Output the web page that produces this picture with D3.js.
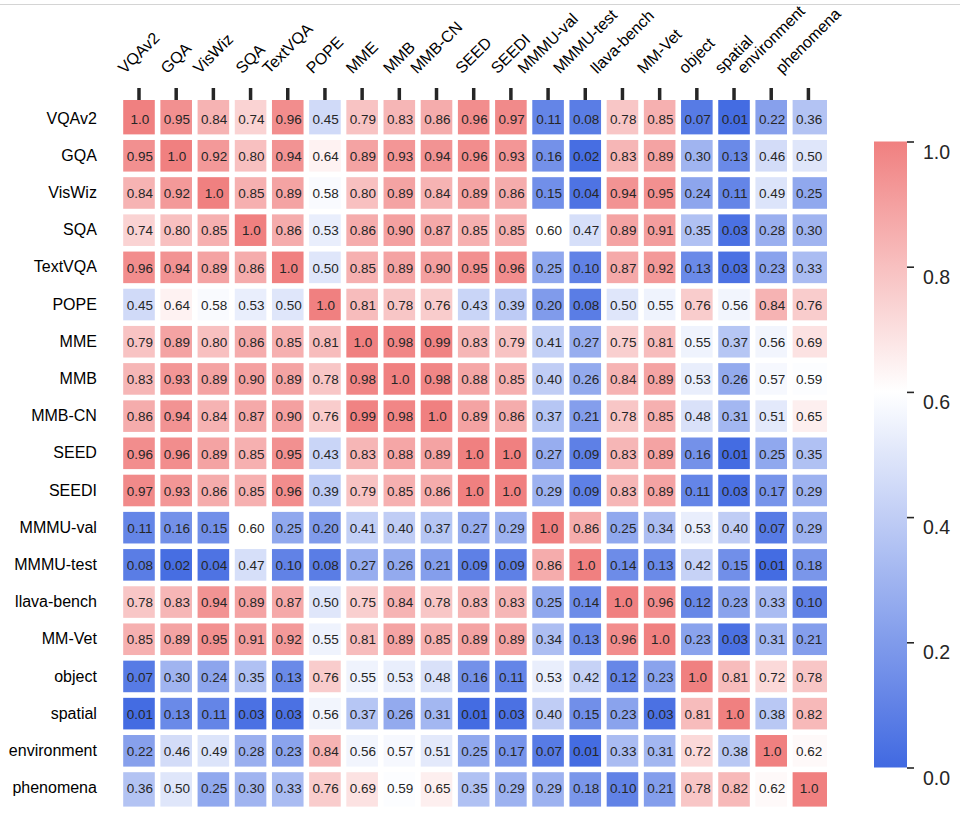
<!DOCTYPE html>
<html>
<head>
<meta charset="utf-8">
<script src="https://cdn.jsdelivr.net/npm/d3@7"></script>
<style>
  html, body { margin: 0; padding: 0; background: #fff; }
  svg { display: block; font-family: "Liberation Sans", Arial, Helvetica, sans-serif; }
</style>
</head>
<body>
<svg id="chart" width="960" height="815"></svg>
<script>
const categories = ["VQAv2","GQA","VisWiz","SQA","TextVQA","POPE","MME","MMB","MMB-CN","SEED","SEEDI","MMMU-val","MMMU-test","llava-bench","MM-Vet","object","spatial","environment","phenomena"];

const rowVQAv2      = [1.0,0.95,0.84,0.74,0.96,0.45,0.79,0.83,0.86,0.96,0.97,0.11,0.08,0.78,0.85,0.07,0.01,0.22,0.36];
const rowGQA        = [0.95,1.0,0.92,0.80,0.94,0.64,0.89,0.93,0.94,0.96,0.93,0.16,0.02,0.83,0.89,0.30,0.13,0.46,0.50];
const rowVisWiz     = [0.84,0.92,1.0,0.85,0.89,0.58,0.80,0.89,0.84,0.89,0.86,0.15,0.04,0.94,0.95,0.24,0.11,0.49,0.25];
const rowSQA        = [0.74,0.80,0.85,1.0,0.86,0.53,0.86,0.90,0.87,0.85,0.85,0.60,0.47,0.89,0.91,0.35,0.03,0.28,0.30];
const rowTextVQA    = [0.96,0.94,0.89,0.86,1.0,0.50,0.85,0.89,0.90,0.95,0.96,0.25,0.10,0.87,0.92,0.13,0.03,0.23,0.33];
const rowPOPE       = [0.45,0.64,0.58,0.53,0.50,1.0,0.81,0.78,0.76,0.43,0.39,0.20,0.08,0.50,0.55,0.76,0.56,0.84,0.76];
const rowMME        = [0.79,0.89,0.80,0.86,0.85,0.81,1.0,0.98,0.99,0.83,0.79,0.41,0.27,0.75,0.81,0.55,0.37,0.56,0.69];
const rowMMB        = [0.83,0.93,0.89,0.90,0.89,0.78,0.98,1.0,0.98,0.88,0.85,0.40,0.26,0.84,0.89,0.53,0.26,0.57,0.59];
const rowMMBCN      = [0.86,0.94,0.84,0.87,0.90,0.76,0.99,0.98,1.0,0.89,0.86,0.37,0.21,0.78,0.85,0.48,0.31,0.51,0.65];
const rowSEED       = [0.96,0.96,0.89,0.85,0.95,0.43,0.83,0.88,0.89,1.0,1.0,0.27,0.09,0.83,0.89,0.16,0.01,0.25,0.35];
const rowSEEDI      = [0.97,0.93,0.86,0.85,0.96,0.39,0.79,0.85,0.86,1.0,1.0,0.29,0.09,0.83,0.89,0.11,0.03,0.17,0.29];
const rowMMMUval    = [0.11,0.16,0.15,0.60,0.25,0.20,0.41,0.40,0.37,0.27,0.29,1.0,0.86,0.25,0.34,0.53,0.40,0.07,0.29];
const rowMMMUtest   = [0.08,0.02,0.04,0.47,0.10,0.08,0.27,0.26,0.21,0.09,0.09,0.86,1.0,0.14,0.13,0.42,0.15,0.01,0.18];
const rowLlavaBench = [0.78,0.83,0.94,0.89,0.87,0.50,0.75,0.84,0.78,0.83,0.83,0.25,0.14,1.0,0.96,0.12,0.23,0.33,0.10];
const rowMMVet      = [0.85,0.89,0.95,0.91,0.92,0.55,0.81,0.89,0.85,0.89,0.89,0.34,0.13,0.96,1.0,0.23,0.03,0.31,0.21];
const rowObject     = [0.07,0.30,0.24,0.35,0.13,0.76,0.55,0.53,0.48,0.16,0.11,0.53,0.42,0.12,0.23,1.0,0.81,0.72,0.78];
const rowSpatial    = [0.01,0.13,0.11,0.03,0.03,0.56,0.37,0.26,0.31,0.01,0.03,0.40,0.15,0.23,0.03,0.81,1.0,0.38,0.82];
const rowEnvironment= [0.22,0.46,0.49,0.28,0.23,0.84,0.56,0.57,0.51,0.25,0.17,0.07,0.01,0.33,0.31,0.72,0.38,1.0,0.62];
const rowPhenomena  = [0.36,0.50,0.25,0.30,0.33,0.76,0.69,0.59,0.65,0.35,0.29,0.29,0.18,0.10,0.21,0.78,0.82,0.62,1.0];

const matrix = [rowVQAv2,rowGQA,rowVisWiz,rowSQA,rowTextVQA,rowPOPE,rowMME,rowMMB,rowMMBCN,rowSEED,rowSEEDI,rowMMMUval,rowMMMUtest,rowLlavaBench,rowMMVet,rowObject,rowSpatial,rowEnvironment,rowPhenomena];

const colorbarTicks = [0.0, 0.2, 0.4, 0.6, 0.8, 1.0];

(function () {
const svg = d3.select("#chart");
const W = 960;

// thin gray line at the top of the picture
svg.append("line").attr("x1", 0).attr("x2", W).attr("y1", 4.5).attr("y2", 4.5)
  .attr("stroke", "#d4d4d4").attr("stroke-width", 1.2);

const leftX = 120.4, topY = 100, size = 706.6;
const x = d3.scaleBand().domain(categories).range([leftX, leftX + size]).padding(0);
const y = d3.scaleBand().domain(categories).range([topY, topY + size]).padding(0);
const step = x.bandwidth();
const g = 2.8;
const n = categories.length;

const color = d3.scaleLinear().domain([0, 0.6, 1]).range(["#4169e1", "#ffffff", "#f08080"]).interpolate(d3.interpolateRgb);

const cells = [];
matrix.forEach((row, i) => row.forEach((v, j) => cells.push({r: categories[i], c: categories[j], i, j, v})));

const cellG = svg.append("g");
cellG.selectAll("rect").data(cells).join("rect")
  .attr("x", d => x(d.c) + g)
  .attr("y", d => y(d.r) + (d.i === 0 ? 0 : g))
  .attr("width", d => step - g - (d.j === n - 1 ? 0 : g))
  .attr("height", d => step - (d.i === 0 ? 0 : g) - (d.i === n - 1 ? 0 : g))
  .attr("fill", d => color(d.v));

cellG.selectAll("text").data(cells).join("text")
  .attr("x", d => x(d.c) + step / 2 + 0.8)
  .attr("y", d => y(d.r) + step / 2 + 0.5)
  .attr("text-anchor", "middle")
  .attr("dy", "0.35em")
  .attr("font-size", 13.5)
  .attr("fill", "#262626")
  .text(d => d.v === 1 ? "1.0" : d.v.toFixed(2));

// top ticks
const topAxis = svg.append("g").attr("transform", `translate(0,${topY})`)
  .call(d3.axisTop(x).tickSize(12).tickFormat(""));
topAxis.select(".domain").remove();
topAxis.selectAll(".tick line").attr("stroke", "#262626").attr("stroke-width", 3.5);

// rotated column labels, centered on each tick
const labG = svg.append("g");
categories.forEach(cat => {
  const t = labG.append("text")
    .attr("font-size", 16)
    .attr("fill", "#000")
    .attr("text-anchor", "middle")
    .attr("dy", "0.32em")
    .text(cat);
  const w = t.node().getComputedTextLength();
  const h = 16 * 1.15;
  const cx = x(cat) + step / 2;
  const cy = 77.5 - (w + h) * Math.SQRT1_2 / 2;
  t.attr("transform", `translate(${cx},${cy}) rotate(-45)`);
});

// row labels
const leftAxis = svg.append("g").attr("transform", `translate(${leftX},0)`)
  .call(d3.axisLeft(y).tickSize(0).tickPadding(23.5));
leftAxis.select(".domain").remove();
leftAxis.selectAll("text").attr("font-size", 16).attr("fill", "#000")
  .attr("font-family", "Liberation Sans, Arial, sans-serif");

// colorbar
const cbX = 874, cbW = 33, cbTop = 141.5, cbBot = 767.5;
const cbScale = d3.scaleLinear().domain([0, 1]).range([cbBot, cbTop]);
const defs = svg.append("defs");
const grad = defs.append("linearGradient").attr("id", "cbgrad")
  .attr("x1", 0).attr("y1", 1).attr("x2", 0).attr("y2", 0);
d3.range(0, 1.0001, 0.05).forEach(t => {
  grad.append("stop").attr("offset", t).attr("stop-color", color(t));
});
svg.append("rect").attr("x", cbX).attr("y", cbTop).attr("width", cbW).attr("height", cbBot - cbTop)
  .attr("fill", "url(#cbgrad)");

const cbAxis = svg.append("g").attr("transform", `translate(${cbX + cbW},0)`)
  .call(d3.axisRight(cbScale).tickValues(colorbarTicks).tickSize(7).tickPadding(9).tickFormat(d3.format(".1f")));
cbAxis.select(".domain").remove();
cbAxis.selectAll(".tick line").attr("stroke", "#262626").attr("stroke-width", 1.6);
cbAxis.selectAll("text").attr("font-size", 19.5).attr("fill", "#262626")
  .attr("font-family", "Liberation Sans, Arial, sans-serif")
  .attr("dy", "0.85em");
})();
</script>
</body>
</html>
